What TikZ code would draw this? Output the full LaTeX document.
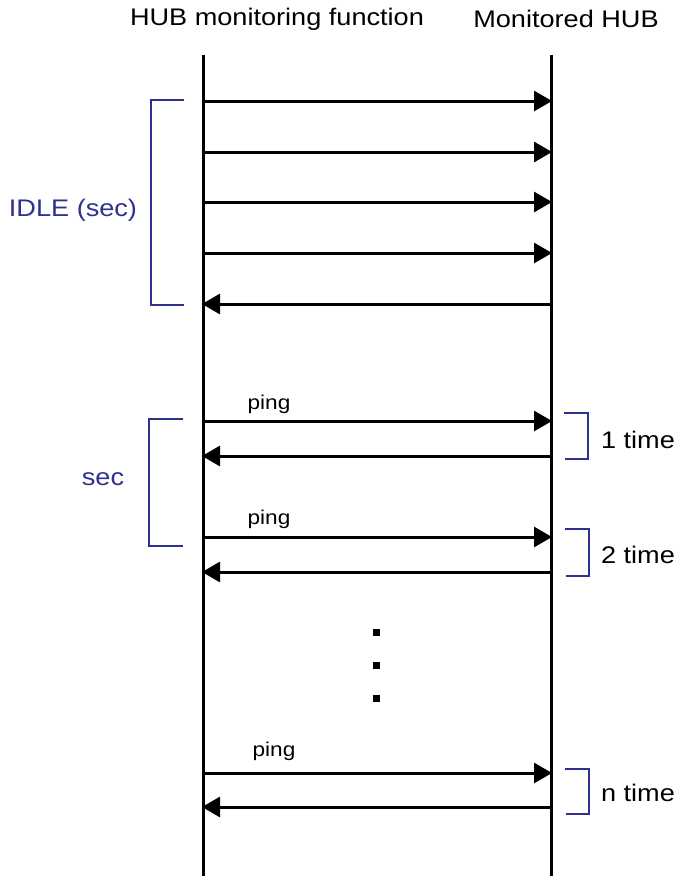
\documentclass[tikz,border=0pt]{standalone}
\usepackage{fontspec}
\setmainfont{Liberation Sans}[FakeStretch=1.13]
\usetikzlibrary{arrows.meta}
\definecolor{brk}{HTML}{2E3192}
\begin{document}
\begin{tikzpicture}[x=1pt,y=-1pt,
  life/.style={line width=3pt},
  msg/.style={line width=3pt,-{Triangle[length=18pt,width=20pt]},shorten >=-1pt},
  brace/.style={brk,line width=2.8pt},
  hdr/.style={font=\fontsize{24}{28}\selectfont,inner sep=0pt},
  lbl/.style={font=\fontsize{24}{28}\selectfont,inner sep=0pt},
  blbl/.style={font=\fontsize{24}{28}\selectfont,inner sep=0pt,text=brk},
  plbl/.style={font=\fontsize{20}{24}\selectfont,inner sep=0pt},
  dot/.style={fill=black,minimum size=7pt,inner sep=0pt}]
\useasboundingbox (0,0) rectangle (680,876);
% headers
\node[hdr] (h1) at (277,19) {HUB monitoring function};
\node[hdr] (h2) at (566,19) {Monitored HUB};
% lifelines
\coordinate (Ltop) at (203,55); \coordinate (Lbot) at (203,876);
\coordinate (Rtop) at (551,55); \coordinate (Rbot) at (551,876);
\draw[life] (Ltop) -- (Lbot);
\draw[life] (Rtop) -- (Rbot);
% messages
\foreach \n/\y in {a/101,b/152,c/202,d/253,e/304,f/421,g/456,h/537,i/572,j/773,k/807}{
  \coordinate (L\n) at (203,\y); \coordinate (R\n) at (551,\y);}
\draw[msg] (La) -- (Ra);
\draw[msg] (Lb) -- (Rb);
\draw[msg] (Lc) -- (Rc);
\draw[msg] (Ld) -- (Rd);
\draw[msg] (Re) -- (Le);
\draw[msg] (Lf) -- (Rf);
\draw[msg] (Rg) -- (Lg);
\draw[msg] (Lh) -- (Rh);
\draw[msg] (Ri) -- (Li);
\draw[msg] (Lj) -- (Rj);
\draw[msg] (Rk) -- (Lk);
% ping labels
\node[plbl] (p1) at (269,404) {ping};
\node[plbl] (p2) at (269,519) {ping};
\node[plbl] (p3) at (274,751) {ping};
% left brackets
\draw[brace] (184,100) -- (151,100) -- (151,305) -- (184,305);
\node[blbl] (idle) at (73,210) {IDLE (sec)};
\draw[brace] (183,419) -- (149,419) -- (149,546) -- (183,546);
\node[blbl] (sec) at (103,479) {sec};
% right brackets
\draw[brace] (564,413) -- (588,413) -- (588,459) -- (565,459);
\node[lbl] (t1) at (638,440) {1 time};
\draw[brace] (565,529) -- (589,529) -- (589,576) -- (566,576);
\node[lbl] (t2) at (638,555) {2 time};
\draw[brace] (565,769) -- (589,769) -- (589,814) -- (566,814);
\node[lbl] (tn) at (638,793) {n time};
% dots
\node[dot] (d1) at (376,632) {};
\node[dot] (d2) at (376,665) {};
\node[dot] (d3) at (376,698) {};
\end{tikzpicture}
\end{document}
